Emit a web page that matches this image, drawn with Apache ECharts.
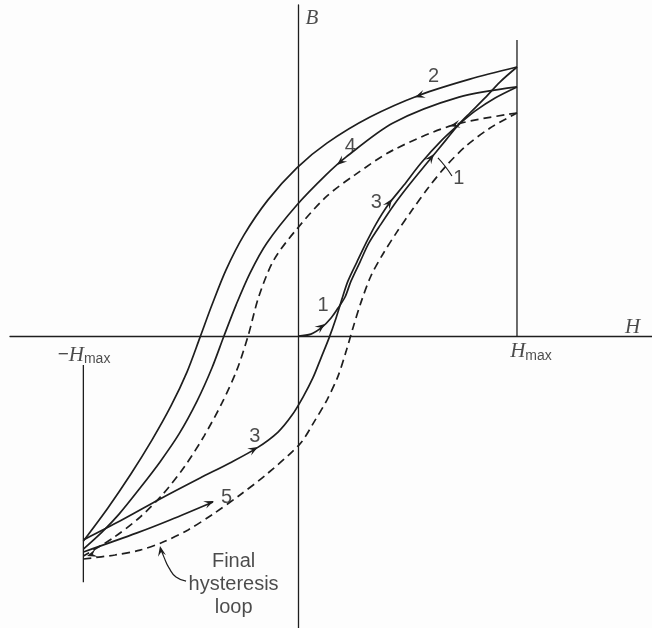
<!DOCTYPE html>
<html>
<head>
<meta charset="utf-8">
<script src="https://cdn.jsdelivr.net/npm/echarts@6/dist/echarts.min.js"></script>
<style>
html,body{margin:0;padding:0;background:#fff;}
#chart{width:652px;height:628px;}
</style>
</head>
<body>
<div id="chart"></div>
<script>
// H in units of H_max, B in units of the first peak
var curve1 = [[0,0],[0.059,0.007],[0.110,0.033],[0.151,0.067],[0.183,0.104],[0.215,0.145],[0.242,0.204],[0.283,0.275],[0.324,0.346],[0.379,0.416],[0.438,0.487],[0.507,0.561],[0.589,0.643],[0.676,0.729],[0.731,0.784],[0.785,0.829],[0.854,0.885],[0.922,0.944],[1.0,1.0]];
var curve2 = [[1.0,1.0],[0.785,0.955],[0.557,0.896],[0.329,0.814],[0.132,0.717],[-0.005,0.625],[-0.137,0.506],[-0.247,0.375],[-0.329,0.245],[-0.393,0.115],[-0.447,-0.004],[-0.507,-0.134],[-0.580,-0.260],[-0.667,-0.387],[-0.763,-0.513],[-0.868,-0.639],[-0.98,-0.762]];
var curve3 = [[-0.98,-0.758],[-0.813,-0.688],[-0.630,-0.606],[-0.447,-0.528],[-0.311,-0.472],[-0.187,-0.416],[-0.091,-0.357],[-0.027,-0.294],[0.023,-0.227],[0.068,-0.156],[0.105,-0.082],[0.142,-0.007],[0.174,0.067],[0.201,0.138],[0.228,0.204],[0.269,0.275],[0.311,0.346],[0.356,0.416],[0.411,0.487],[0.484,0.561],[0.562,0.643],[0.658,0.729],[0.731,0.784],[0.808,0.836],[0.900,0.885],[1.0,0.926]];
var curve4 = [[1.0,0.926],[0.735,0.888],[0.434,0.792],[0.219,0.665],[0.128,0.599],[-0.005,0.487],[-0.142,0.346],[-0.219,0.234],[-0.283,0.115],[-0.338,0],[-0.393,-0.119],[-0.461,-0.242],[-0.543,-0.364],[-0.630,-0.468],[-0.721,-0.565],[-0.817,-0.662],[-0.895,-0.729],[-0.98,-0.792]];
var curve5 = [[-0.98,-0.803],[-0.735,-0.732],[-0.584,-0.684],[-0.388,-0.617]];
var finalUpper = [[1.0,0.829],[0.708,0.784],[0.434,0.691],[0.260,0.599],[0.128,0.517],[-0.005,0.398],[-0.110,0.283],[-0.178,0.149],[-0.228,0],[-0.279,-0.126],[-0.347,-0.249],[-0.429,-0.372],[-0.516,-0.483],[-0.616,-0.587],[-0.721,-0.673],[-0.845,-0.751],[-0.98,-0.818]];
var finalLower = [[-0.98,-0.829],[-0.836,-0.814],[-0.721,-0.796],[-0.616,-0.766],[-0.502,-0.721],[-0.388,-0.662],[-0.265,-0.591],[-0.142,-0.513],[0.009,-0.401],[0.073,-0.320],[0.132,-0.238],[0.183,-0.149],[0.219,-0.059],[0.251,0.030],[0.288,0.126],[0.333,0.223],[0.388,0.305],[0.452,0.387],[0.521,0.468],[0.594,0.550],[0.676,0.632],[0.767,0.706],[0.877,0.773],[1.0,0.829]];

// field limits
var hMaxLine = [[1,0],[1,1.100]];
var negHMaxLine = [[-0.98,-0.108],[-0.98,-0.915]];

// arrowheads: tip H, tip B, tail H, tail B
var arrows = [
  [0.534,0.888, 0.671,0.926],
  [0.178,0.636, 0.247,0.684],
  [0.694,0.781, 0.785,0.796],
  [0.123,0.045, 0.068,0.011],
  [0.621,0.677, 0.575,0.628],
  [0.429,0.509, 0.388,0.461],
  [-0.183,-0.413, -0.265,-0.450],
  [-0.384,-0.613, -0.470,-0.643],
  [-0.963,-0.818, -0.881,-0.796],
  [-0.630,-0.781, -0.621,-0.818]
];

// leader strokes for the annotations
var leader1 = [[0.639,0.662],[0.671,0.632],[0.703,0.595]];
var leaderFinal = [[-0.511,-0.911],[-0.557,-0.896],[-0.589,-0.862],[-0.612,-0.822],[-0.626,-0.792]];

// text: content, H, B
var numberLabels = [
  ['2', 0.619, 0.963],
  ['4', 0.239, 0.703],
  ['3', 0.358, 0.498],
  ['1', 0.734, 0.587],
  ['1', 0.115, 0.112],
  ['3', -0.197, -0.372],
  ['5', -0.326, -0.599]
];
var axisLabels = [
  ['{i|B}', 0.064, 1.182],
  ['{i|H}', 1.528, 0.033],
  ['{m|\u2212}{i|H}{s|max}', -0.977, -0.071],
  ['{i|H}{s|max}', 1.064, -0.059]
];
var noteLabel = [['Final\nhysteresis\nloop', -0.294, -0.922]];

var ink = '#1e1e1e';

function curve(data, dashed){
  return {
    type: 'line',
    data: data,
    smooth: 0.3,
    symbol: 'none',
    silent: true,
    lineStyle: {color: ink, width: 1.7, type: dashed ? [8, 5] : 'solid'}
  };
}

function textSeries(list, fontSize){
  return {
    type: 'scatter',
    symbolSize: 1,
    itemStyle: {color: 'transparent'},
    silent: true,
    data: list.map(function(t){
      return {value: [t[1], t[2]], label: {formatter: t[0]}};
    }),
    label: {
      show: true,
      position: 'inside',
      color: ink,
      fontFamily: 'Liberation Sans',
      fontSize: fontSize,
      lineHeight: 23,
      rich: {
        i: {fontFamily: 'Liberation Serif', fontStyle: 'italic', fontSize: 21, color: ink},
        m: {fontFamily: 'Liberation Sans', fontSize: 19, color: ink},
        s: {fontFamily: 'Liberation Sans', fontSize: 14, color: ink, padding: [8, 0, 0, 0]}
      }
    }
  };
}

var myChart = echarts.init(document.getElementById('chart'));

var option = {
  animation: false,
  backgroundColor: '#fdfdfd',
  grid: {left: 10, right: 0, top: 5, bottom: 0},
  xAxis: {
    type: 'value', min: -1.315, max: 1.6165,
    axisLine: {show: true, onZero: true, lineStyle: {color: ink, width: 1.3}},
    axisTick: {show: false}, axisLabel: {show: false}, splitLine: {show: false}
  },
  yAxis: {
    type: 'value', min: -1.0855, max: 1.2305,
    axisLine: {show: true, onZero: true, lineStyle: {color: ink, width: 1.3}},
    axisTick: {show: false}, axisLabel: {show: false}, splitLine: {show: false}
  },
  series: [
    {type: 'line', data: hMaxLine, symbol: 'none', silent: true, lineStyle: {color: ink, width: 1.3}},
    {type: 'line', data: negHMaxLine, symbol: 'none', silent: true, lineStyle: {color: ink, width: 1.3}},
    curve(curve1, false),
    curve(curve2, false),
    curve(curve3, false),
    curve(curve4, false),
    curve(curve5, false),
    curve(finalUpper, true),
    curve(finalLower, true),
    {type: 'line', data: leader1, smooth: 0.5, symbol: 'none', silent: true, lineStyle: {color: ink, width: 1.2}},
    {type: 'line', data: leaderFinal, smooth: 0.5, symbol: 'none', silent: true, lineStyle: {color: ink, width: 1.2}},
    {
      type: 'custom',
      coordinateSystem: 'cartesian2d',
      silent: true,
      data: arrows,
      encode: {x: [0, 2], y: [1, 3]},
      renderItem: function(params, api){
        var tip = api.coord([api.value(0), api.value(1)]);
        var from = api.coord([api.value(2), api.value(3)]);
        var dx = tip[0] - from[0], dy = tip[1] - from[1];
        var len = Math.sqrt(dx * dx + dy * dy);
        dx /= len; dy /= len;
        var L = 10, W = 4;
        return {
          type: 'polygon',
          shape: {points: [
            tip,
            [tip[0] - L * dx + W * dy, tip[1] - L * dy - W * dx],
            [tip[0] - 0.6 * L * dx, tip[1] - 0.6 * L * dy],
            [tip[0] - L * dx - W * dy, tip[1] - L * dy + W * dx]
          ]},
          style: {fill: ink}
        };
      }
    },
    textSeries(numberLabels, 20),
    textSeries(axisLabels, 20),
    textSeries(noteLabel, 20)
  ]
};

myChart.setOption(option);
</script>
</body>
</html>
